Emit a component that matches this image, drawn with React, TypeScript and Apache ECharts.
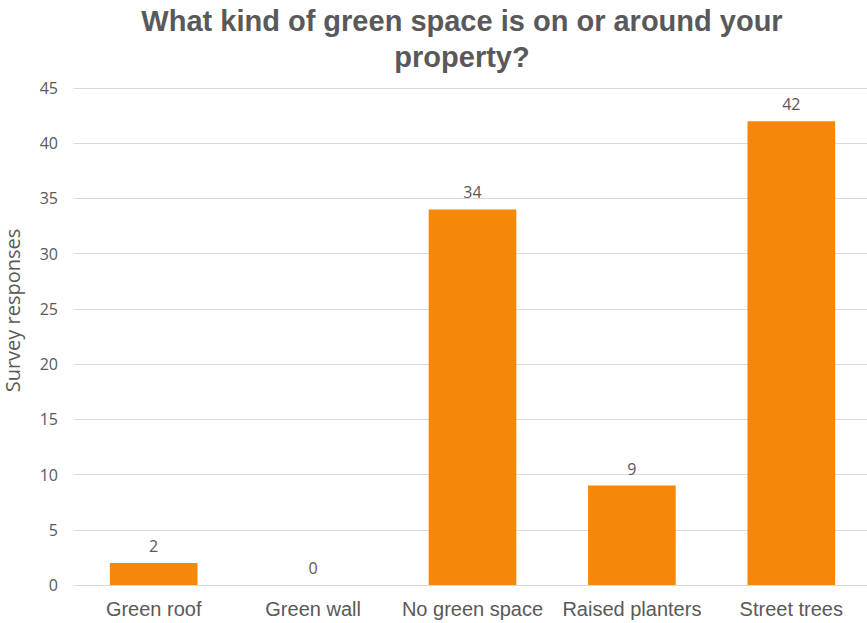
import React, { useEffect, useRef } from "react";
import * as echarts from "echarts";

const categories = ["Green roof", "Green wall", "No green space", "Raised planters", "Street trees"];
const responses = [2, 0, 34, 9, 42];
const yTicks = { min: 0, max: 45, interval: 5 };

const TEXT = "#595959";
const BAR = "#F5880A";
const BODY_FONT = "'Open Sans', 'Noto Sans', sans-serif";
const ARIAL_FONT = "'Liberation Sans', Arial, sans-serif";

export default function App() {
  const ref = useRef<HTMLDivElement>(null);

  useEffect(() => {
    if (!ref.current) return;
    const chart = echarts.init(ref.current, undefined, { renderer: "svg" });
    chart.setOption({
      animation: false,
      backgroundColor: "#ffffff",
      title: {
        text: "What kind of green space is on or around your\nproperty?",
        left: 457,
        top: -2,
        textAlign: "center",
        textStyle: {
          color: TEXT,
          fontFamily: ARIAL_FONT,
          fontWeight: "bold",
          fontSize: 29,
          lineHeight: 36,
        },
      },
      grid: {
        left: 74,
        right: -4,
        top: 88,
        bottom: 38,
        containLabel: false,
        outerBoundsMode: "none",
      },
      xAxis: {
        type: "category",
        data: categories,
        axisLine: { show: true, lineStyle: { color: "#d9d9d9", width: 1 } },
        axisTick: { show: false },
        axisLabel: {
          color: TEXT,
          fontFamily: ARIAL_FONT,
          fontSize: 20,
          margin: 14,
          interval: 0,
        },
      },
      yAxis: {
        type: "value",
        min: yTicks.min,
        max: yTicks.max,
        interval: yTicks.interval,
        name: "Survey responses",
        nameLocation: "middle",
        nameGap: 52,
        nameRotate: 90,
        nameTextStyle: {
          color: TEXT,
          fontFamily: BODY_FONT,
          fontSize: 20,
          padding: [0, 0, 0, 52],
        },
        axisLine: { show: false },
        axisTick: { show: false },
        axisLabel: { color: TEXT, fontFamily: BODY_FONT, fontSize: 16, margin: 16 },
        splitLine: { lineStyle: { color: "#d9d9d9", width: 1 } },
      },
      series: [
        {
          type: "bar",
          data: responses,
          barWidth: "55%",
          itemStyle: { color: BAR },
          label: {
            show: true,
            position: "top",
            distance: 9,
            color: TEXT,
            fontFamily: BODY_FONT,
            fontSize: 16,
          },
        },
      ],
    });
    return () => chart.dispose();
  }, []);

  return (
    <div
      ref={ref}
      style={{ position: "fixed", left: 0, top: 0, width: 867, height: 623 }}
    />
  );
}
